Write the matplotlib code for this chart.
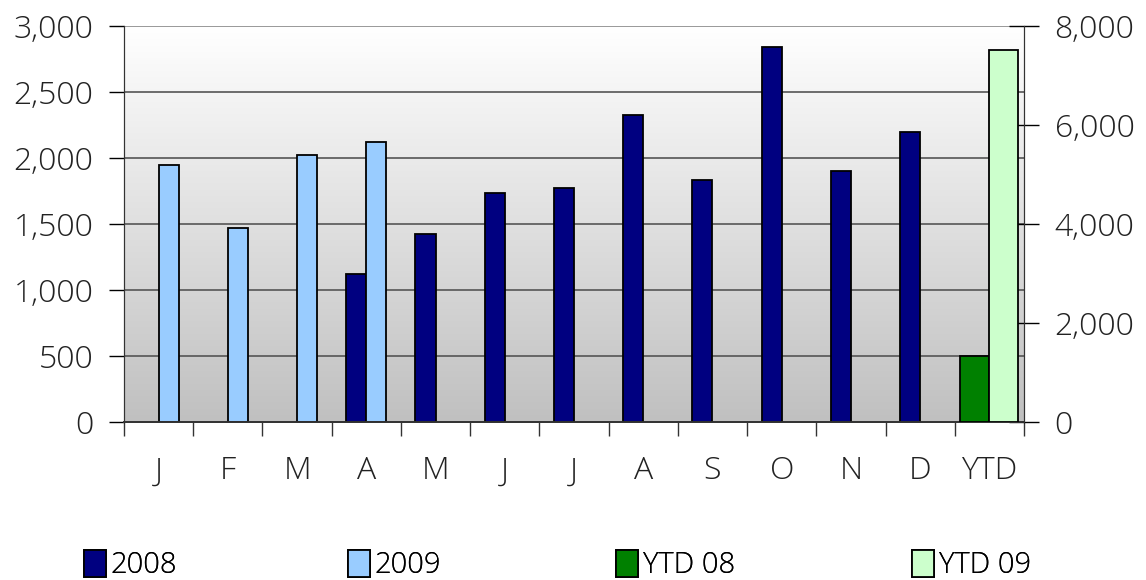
import numpy as np
import matplotlib
matplotlib.use('Agg')
import matplotlib.pyplot as plt
from matplotlib.patches import Patch

plt.rcParams['font.family'] = ['Open Sans', 'Lato', 'DejaVu Sans']
plt.rcParams['font.weight'] = 300

# data
months = ['J', 'F', 'M', 'A', 'M', 'J', 'J', 'A', 'S', 'O', 'N', 'D', 'YTD']
s2008 = [np.nan, np.nan, np.nan, 1120, 1422, 1737, 1770, 2328, 1833, 2838, 1899, 2199, np.nan]
s2009 = [1945, 1467, 2025, 2119, np.nan, np.nan, np.nan, np.nan, np.nan, np.nan, np.nan, np.nan, np.nan]
ytd08 = 1330
ytd09 = 7525

c2008 = '#000080'
c2009 = '#99ccff'
cy08 = '#008000'
cy09 = '#ccffcc'

fig = plt.figure(figsize=(11.46, 5.8), dpi=100)
ax = fig.add_axes([124/1146, 1 - 422/580, 900/1146, 396/580])
ax2 = ax.twinx()

# gradient background of the plot area
grad = np.linspace(1, 0, 256).reshape(-1, 1)
ax.imshow(grad, cmap=matplotlib.colors.LinearSegmentedColormap.from_list('g', ['#c0c0c0', '#ffffff']),
          extent=[0, 1, 0, 1], transform=ax.transAxes, aspect='auto', zorder=0)

x = np.arange(len(months))
w = 0.29
w2 = 0.42
ax.bar(x - w/2, s2008, w, color=c2008, edgecolor='black', linewidth=1.3, zorder=3)
ax.bar(x + w/2, s2009, w, color=c2009, edgecolor='black', linewidth=1.3, zorder=3)
ax2.bar(x[-1] - w2/2, ytd08, w2, color=cy08, edgecolor='black', linewidth=1.3, zorder=3)
ax2.bar(x[-1] + w2/2, ytd09, w2, color=cy09, edgecolor='black', linewidth=1.3, zorder=3)

ax.set_xlim(-0.5, len(months) - 0.5)
ax.set_ylim(0, 3000)
ax2.set_ylim(0, 8000)
ax.set_yticks(range(0, 3001, 500))
ax2.set_yticks(range(0, 8001, 2000))
ax.yaxis.set_major_formatter(matplotlib.ticker.StrMethodFormatter('{x:,.0f}'))
ax2.yaxis.set_major_formatter(matplotlib.ticker.StrMethodFormatter('{x:,.0f}'))

for v in range(500, 3001, 500):
    ax.axhline(v, color='#555555' if v < 3000 else '#888888', linewidth=1.2, zorder=1)

ax.set_xticks(x)
ax.set_xticklabels(months)
ax.set_xticks(np.arange(-0.5, len(months), 1), minor=True)
ax.tick_params(axis='x', which='major', length=0, pad=24, labelsize=23, labelcolor='#222222')
ax.tick_params(axis='x', which='minor', length=10, width=1, color='#333333', direction='out')
ax.tick_params(axis='y', length=11, width=1, pad=11, labelsize=23, labelcolor='#222222')
ax2.tick_params(axis='y', length=22, width=1, direction='inout', pad=11, labelsize=23, labelcolor='#222222')
ax2.tick_params(axis='x', length=0)

for a in (ax, ax2):
    a.spines['top'].set_visible(False)
    a.spines['left'].set_color('#333333')
    a.spines['right'].set_color('#333333')
    a.spines['bottom'].set_color('#333333')
    a.spines['bottom'].set_linewidth(1.3)
ax2.patch.set_visible(False)

# legend entries spread along the bottom like the original
labels = ['2008', '2009', 'YTD 08', 'YTD 09']
colors = [c2008, c2009, cy08, cy09]
xs = [64/1146, 328/1146, 596/1146, 892/1146]
for lab, c, xp in zip(labels, colors, xs):
    lg = fig.legend([Patch(facecolor=c, edgecolor='black', linewidth=1.3)], [lab],
                    loc='lower left', bbox_to_anchor=(xp, -0.036), frameon=False,
                    handlelength=0.75, handleheight=1.0, handletextpad=0.15, borderpad=0.2,
                    prop={'size': 21, 'weight': 300})
    fig.add_artist(lg)

fig.savefig('out.png', dpi=100)
